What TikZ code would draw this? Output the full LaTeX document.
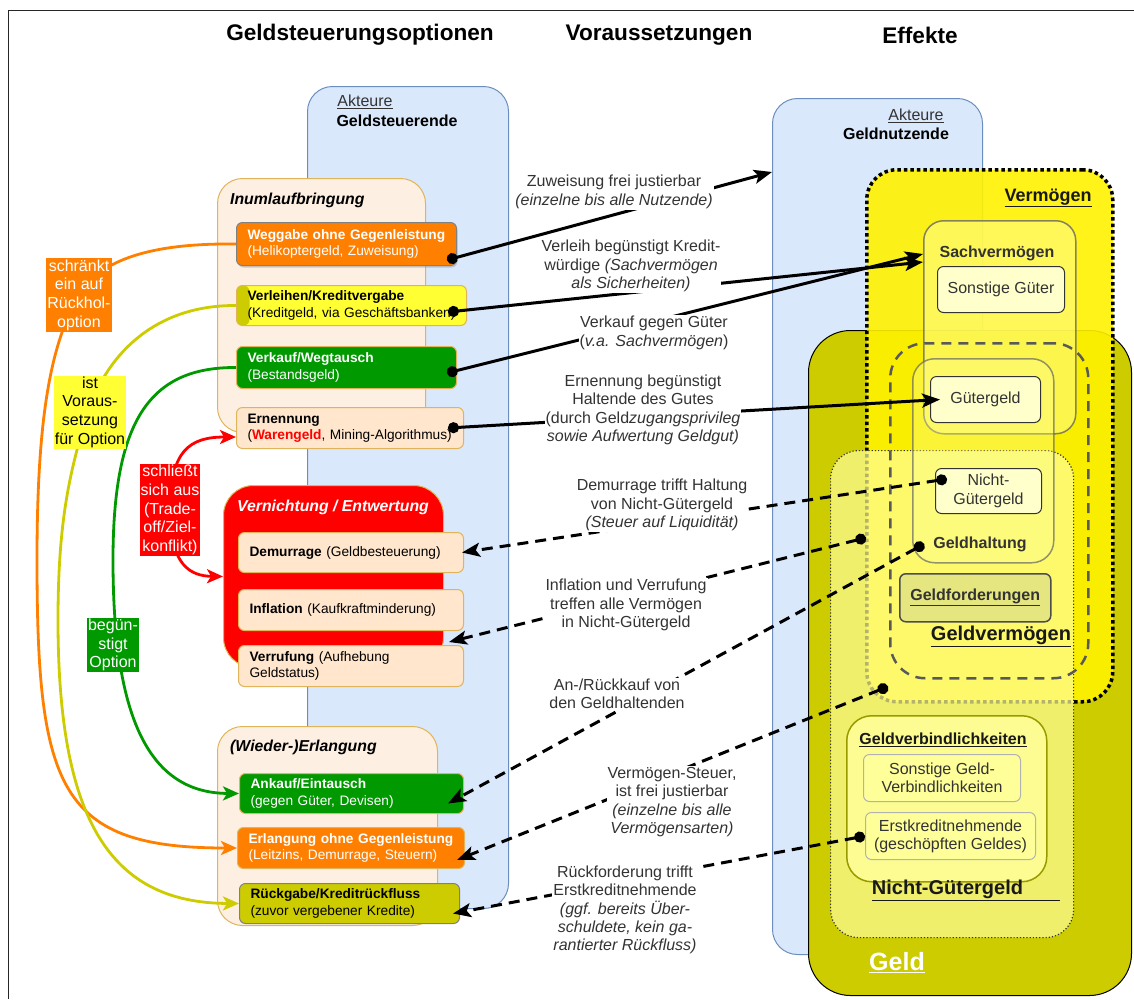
\documentclass[tikz,border=0pt]{standalone}
\usepackage{fontspec}
\setmainfont{Liberation Sans}
\usetikzlibrary{arrows.meta,shadows}

\definecolor{akteurF}{HTML}{DAE8FC}
\definecolor{akteurD}{HTML}{6C8EBF}
\definecolor{gruppeF}{HTML}{FDEFE1}
\definecolor{gruppeD}{HTML}{E0B45A}
\definecolor{pfirsich}{HTML}{FFE6CC}
\definecolor{orangeF}{HTML}{FF8000}
\definecolor{gruenF}{HTML}{009900}
\definecolor{gelbF}{HTML}{FFFF33}
\definecolor{olivF}{HTML}{CCCC00}
\definecolor{rotF}{HTML}{FF0000}
\definecolor{blassF}{HTML}{FFFFCC}
\definecolor{hellgelb}{HTML}{FFFF99}
\definecolor{forderF}{HTML}{E6E680}
\definecolor{schrift}{HTML}{333333}

\newcommand\fs[2]{\fontsize{#1}{#2}\selectfont}

\begin{document}
\begin{tikzpicture}[x=1pt, y=-1pt, line join=round,
  kopf/.style={font=\bfseries\fs{22.6}{26}},
  saeule/.style={draw=akteurD, fill=akteurF, line width=1pt, rounded corners=25pt, anchor=north west, inner sep=0pt},
  gruppe/.style={draw=gruppeD, fill=gruppeF, line width=1pt, rounded corners=25pt, anchor=north west, inner sep=0pt},
  titel/.style={font=\bfseries\itshape\fs{15.8}{18}, anchor=west, inner sep=0pt},
  opt/.style={draw=gruppeD, line width=1pt, rounded corners=6pt, anchor=north west, align=left, inner xsep=11pt, inner ysep=2pt, font=\fs{13.7}{16.5}},
  hinweis/.style={align=center, inner sep=1pt, font=\fs{16}{18.7}},
  bogen/.style={line width=2.8pt, arrows=-{Stealth[length=16pt,width=14pt,inset=4pt]}},
  rahmen/.style={anchor=north west, inner sep=0pt},
  feld/.style={draw=schrift, fill=blassF, line width=1pt, rounded corners=6pt, anchor=north west, align=center, font=\fs{16}{18.3}, text=schrift, inner sep=1pt},
  etikett/.style={font=\bfseries\fs{16}{18}, text=schrift, inner sep=1pt},
  wirkung/.style={line width=3pt, arrows={Circle[length=11pt]}-{Stealth[length=18pt,width=14pt,inset=4pt]}},
  ruecklauf/.style={wirkung, dash pattern=on 11pt off 7pt},
  erklaer/.style={fill=white, align=center, inner sep=1pt, text=schrift, font=\fs{16}{18.3}},
]
\useasboundingbox (0,0) rectangle (1134,999);
\draw[black!85, line width=1pt] (8,999) -- (8,10) -- (1134,10);

% Ueberschriften
\node[kopf] (hSteuer) at (360,35) {Geldsteuerungsoptionen};
\node[kopf] (hVor) at (659,35) {Voraussetzungen};
\node[kopf] (hEff) at (920,35) {Effekte};

% Akteure
\node[saeule, minimum width=201pt, minimum height=822pt] (akt1) at (307,86) {};
\node[font=\fs{16}{18}, text=schrift] (ak1) at (365,102) {\underline{Akteure}};
\node[font=\bfseries\fs{16}{18}] (gs1) at (397,121) {Geldsteuerende};
\node[saeule, minimum width=210pt, minimum height=856pt] (akt2) at (772,98) {};
\node[font=\fs{16}{18}, text=schrift] (ak2) at (916,116) {\underline{Akteure}};
\node[font=\bfseries\fs{16}{18}] (gn2) at (896,134) {Geldnutzende};

% Inumlaufbringung
\node[gruppe, minimum width=208pt, minimum height=254pt] (inum) at (217,178) {};
\node[titel] (tInum) at (230,200) {Inumlaufbringung};
\node[opt, fill=orangeF, draw=gray, text=white, text width=198pt, minimum height=43pt,
  drop shadow={opacity=.35, shadow xshift=1pt, shadow yshift=-2pt}] (weg) at (236,222)
  {\textbf{Weggabe ohne Gegenleistung}\\(Helikoptergeld, Zuweisung)};
\node[opt, fill=gelbF, text width=208pt, minimum height=40pt,
  path picture={\fill[olivF] (path picture bounding box.south west) rectangle ([xshift=13pt]path picture bounding box.north west);}] (verl) at (236,285)
  {\textbf{Verleihen/Kreditvergabe}\\(Kreditgeld, via Geschäftsbanken)};
\node[opt, fill=gruenF, text=white, text width=198pt, minimum height=42pt] (verk) at (236,346)
  {\textbf{Verkauf/Wegtausch}\\(Bestandsgeld)};
\node[opt, fill=pfirsich, text width=205pt, minimum height=41pt] (ern) at (236,407)
  {\textbf{Ernennung}\\(\textcolor{red}{\textbf{Warengeld}}, Mining-Algorithmus)};

% Vernichtung / Entwertung
\node[gruppe, fill=rotF, rounded corners=30pt, minimum width=220pt, minimum height=182pt] (vern) at (223,485) {};
\node[titel, text=white] (tVern) at (237,507) {Vernichtung / Entwertung};
\node[opt, fill=pfirsich, text width=203pt, minimum height=40pt] (dem) at (238,532) {\textbf{Demurrage} (Geldbesteuerung)};
\node[opt, fill=pfirsich, text width=203pt, minimum height=41pt] (inf) at (238,589) {\textbf{Inflation} (Kaufkraftminderung)};
\node[opt, fill=pfirsich, text width=203pt, minimum height=41pt] (verr) at (238,645) {\textbf{Verrufung} (Aufhebung\\Geldstatus)};

% (Wieder-)Erlangung
\node[gruppe, minimum width=220pt, minimum height=199pt] (erlg) at (217,726) {};
\node[titel] (tErl) at (230,747) {(Wieder-)Erlangung};
\node[opt, fill=gruenF, text=white, text width=202pt, minimum height=40pt] (ank) at (239,773)
  {\textbf{Ankauf/Eintausch}\\(gegen Güter, Devisen)};
\node[opt, fill=orangeF, text=white, text width=205pt, minimum height=41pt] (erl) at (237,827)
  {\textbf{Erlangung ohne Gegenleistung}\\(Leitzins, Demurrage, Steuern)};
\node[opt, fill=olivF, draw=gray, text width=198pt, minimum height=40pt] (rck) at (239,883)
  {\textbf{Rückgabe/Kreditrückfluss}\\(zuvor vergebener Kredite)};

% Voraussetzungen links
\draw[bogen, orangeF] (weg.west) .. controls (150,243) and (100,260) .. (79,295)
  .. controls (50,345) and (37,420) .. (37,560) .. controls (37,790) and (60,848) .. (erl.west);
\draw[bogen, olivF] (verl.west) .. controls (150,305) and (105,360) .. (88,412)
  .. controls (70,470) and (58,520) .. (58,620) .. controls (58,820) and (110,903) .. (rck.west);
\draw[bogen, gruenF] (verk.west) .. controls (150,367) and (113,420) .. (113,560)
  .. controls (113,720) and (150,793) .. (ank.west);
\draw[bogen, rotF, arrows={Stealth[length=16pt,width=14pt,inset=4pt]}-{Stealth[length=16pt,width=14pt,inset=4pt]}]
  ([shift={(0,9)}]ern.west) .. controls (190,437) and (170,450) .. (170,510)
  .. controls (170,565) and (190,576) .. (vern.west);
\node[hinweis, fill=orangeF, text=white] (lRueck) at (79,295) {schränkt\\ein auf\\Rückhol-\\option};
\node[hinweis, fill=gelbF] (lVor) at (90,412) {ist\\Voraus-\\setzung\\für Option};
\node[hinweis, fill=rotF, text=white] (lExkl) at (170,510) {schließt\\sich aus\\(Trade-\\off/Ziel-\\konflikt)};
\node[hinweis, fill=gruenF, text=white] (lBeg) at (113,645) {begün-\\stigt\\Option};

% Effekte
\node[rahmen, draw=black, fill=olivF, line width=1pt, rounded corners=42pt, minimum width=323pt, minimum height=665pt] (geld) at (808,330) {};
\node[rahmen, draw=black, fill=yellow, fill opacity=.9, line width=3.5pt, dash pattern=on 3.5pt off 3pt, rounded corners=30pt, minimum width=246pt, minimum height=532pt] (verm) at (865,168) {};
\node[rahmen, draw=black!80, fill=hellgelb, fill opacity=.7, line width=1.2pt, dotted, rounded corners=28pt, minimum width=243pt, minimum height=487pt] (ngb) at (830,450) {};
\node[rahmen, draw=black!60, draw opacity=.8, fill=hellgelb, fill opacity=.5, line width=1.5pt, rounded corners=20pt, minimum width=152pt, minimum height=213pt] (sach) at (923,220) {};
\node[etikett] (tSach) at (997,253) {Sachvermögen};
\node[feld, minimum width=127pt, minimum height=46pt] (sgut) at (937,266) {Sonstige Güter};
\node[rahmen, draw=black!65, line width=2.5pt, dash pattern=on 10pt off 7pt, rounded corners=35pt, minimum width=198pt, minimum height=335pt] (gvm) at (889,342) {};
\node[rahmen, draw=black!60, draw opacity=.7, fill=hellgelb, fill opacity=.35, line width=1.5pt, rounded corners=22pt, minimum width=141pt, minimum height=204pt] (ghb) at (912,358) {};
\node[feld, minimum width=110pt, minimum height=46pt] (gtg) at (930,376) {Gütergeld};
\node[feld, minimum width=106pt, minimum height=45pt] (ngg) at (935,468) {Nicht-\\Gütergeld};
\node[etikett] (hlt) at (980,544) {Geldhaltung};
\node[feld, fill=forderF, draw=black!70, line width=1.5pt, font=\bfseries\fs{16}{18}, minimum width=151pt, minimum height=48pt] (gfd) at (899,573) {\underline{Geldforderungen}};
\node[etikett, text=black!90, font=\bfseries\fs{20}{22}] (tGvm) at (1001,636) {\underline{Geldvermögen}};
\node[etikett, text=black!90, font=\bfseries\fs{18}{20}] (tVerm) at (1048,198) {\underline{Vermögen}};
\node[rahmen, draw=olivF!75!black, fill=hellgelb, fill opacity=.85, line width=1.5pt, rounded corners=25pt, minimum width=200pt, minimum height=166pt] (gvb) at (846,715) {};
\node[etikett, text=black!90] (tGvb) at (943,740) {\underline{Geldverbindlichkeiten}};
\node[feld, fill=hellgelb, draw=black!30, minimum width=157pt, minimum height=47pt] (sgv) at (863,754) {Sonstige Geld-\\Verbindlichkeiten};
\node[feld, fill=hellgelb, draw=black!30, minimum width=170pt, minimum height=47pt] (ekn) at (865,812) {Erstkreditnehmende\\(geschöpften Geldes)};
\node[etikett, text=black!90, font=\bfseries\fs{20}{22}] (tNgb) at (966,890) {\underline{Nicht-Gütergeld\hspace{37pt}}};
\node[etikett, text=white, font=\bfseries\fs{25}{28}] (tGeld) at (897,963) {\underline{Geld}};

% Wirkungen
\draw[wirkung] ([shift={(-10,-6)}]weg.south east) -- ([shift={(0,74)}]akt2.north west);
\draw[wirkung] ([shift={(-19,-14)}]verl.south east) -- ([shift={(0,42)}]sach.north west);
\draw[wirkung] ([shift={(-10,-16)}]verk.south east) -- ([shift={(0,34)}]sach.north west);
\draw[wirkung] ([shift={(-16,0)}]ern.east) -- ([shift={(10,0)}]gtg.west);
\draw[ruecklauf] ([shift={(12,11)}]ngg.north west) -- ([shift={(-2,0)}]dem.east);
\draw[ruecklauf] ([shift={(1,102)}]verm.west) -- ([shift={(-15,-3)}]verr.north east);
\draw[ruecklauf] ([shift={(-8,0)}]hlt.west) -- ([shift={(-16,10)}]ank.east);
\draw[ruecklauf] ([shift={(23,-17)}]verm.south west) -- ([shift={(-8,12)}]erl.east);
\draw[ruecklauf] (ekn.west) -- ([shift={(-7,10)}]rck.east);

\node[erklaer] (lZuw) at (614,192) {Zuweisung frei justierbar\\\textit{(einzelne bis alle Nutzende)}};
\node[erklaer] (lVerl) at (631,266) {Verleih begünstigt Kredit-\\würdige \textit{(Sachvermögen}\\\textit{als Sicherheiten)}};
\node[erklaer] (lVerk) at (654,333) {Verkauf gegen Güter\\(\textit{v.a. Sachvermögen})};
\node[erklaer] (lErn) at (643,410) {Ernennung begünstigt\\Haltende des Gutes\\(durch Geld\textit{zugangsprivileg}\\\textit{sowie Aufwertung Geldgut)}};
\node[erklaer] (lDem) at (662,505) {Demurrage trifft Haltung\\von Nicht-Gütergeld\\\textit{(Steuer auf Liquidität)}};
\node[erklaer] (lInf) at (626,605) {Inflation und Verrufung\\treffen alle Vermögen\\in Nicht-Gütergeld};
\node[erklaer] (lAnk) at (617,694) {An-/Rückkauf von\\den Geldhaltenden};
\node[erklaer] (lVst) at (672,802) {Vermögen-Steuer,\\ist frei justierbar\\\textit{(einzelne bis alle}\\\textit{Vermögensarten)}};
\node[erklaer] (lRck) at (625,910) {Rückforderung trifft\\Erstkreditnehmende\\\textit{(ggf. bereits Über-}\\\textit{schuldete, kein ga-}\\\textit{rantierter Rückfluss)}};
\end{tikzpicture}
\end{document}
